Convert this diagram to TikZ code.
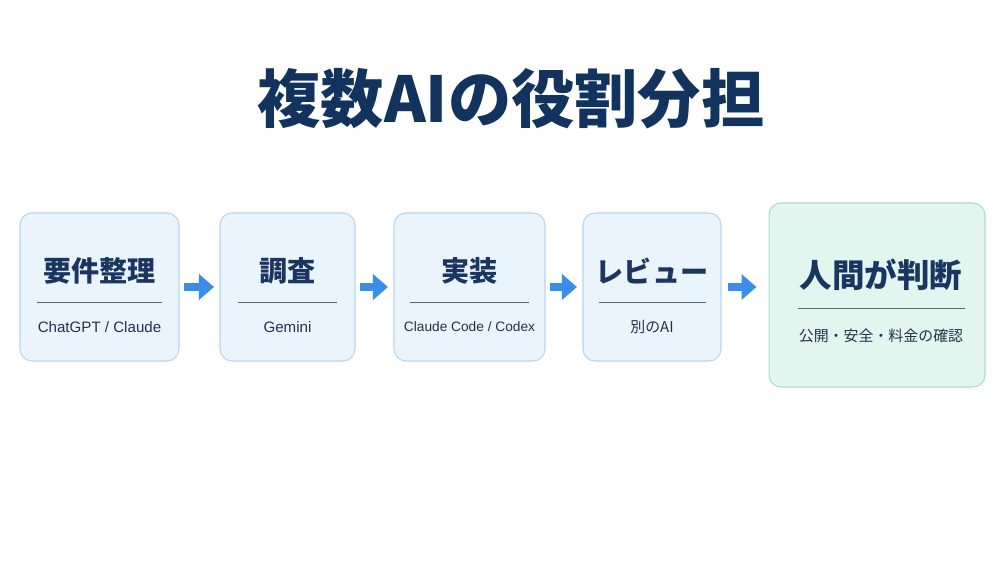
\documentclass[tikz,border=0pt]{standalone}
\usepackage{fontspec}
\setmainfont{Noto Sans CJK JP}
\newfontfamily\latinsub{Liberation Sans}
\usetikzlibrary{arrows.meta}

\definecolor{titlenavy}{HTML}{13335F}
\definecolor{headnavy}{HTML}{1A3560}
\definecolor{subnavy}{HTML}{22324D}
\definecolor{boxfill}{HTML}{EAF4FD}
\definecolor{boxline}{HTML}{B8D5EE}
\definecolor{humanfill}{HTML}{E2F5EF}
\definecolor{humanline}{HTML}{A9DECB}
\definecolor{divline}{HTML}{55657A}
\definecolor{flowblue}{HTML}{3A8DE8}

\tikzset{
stagebox/.style={draw=boxline, fill=boxfill, rounded corners=0.24cm, line width=0.6pt},
headtext/.style={font=\bfseries\fontsize{16}{18}\selectfont, text=headnavy},
subtext/.style={font=\fontsize{8.5}{10}\selectfont, text=subnavy},
latintext/.style={subtext, font=\latinsub\fontsize{8.6}{10}\selectfont},
divider/.style={draw=divline, line width=0.5pt},
flow/.style={draw=flowblue, line width=4.5pt, -{Triangle[width=0.5cm,length=0.3cm]}, shorten <=0.09cm, shorten >=0.11cm}
}

\begin{document}
\begin{tikzpicture}[x=0.02cm,y=0.02cm]

\useasboundingbox[fill=white] (0,0) rectangle (1000,-565);

%%%%%%%%%%%%%%%%%%%%%%%%%%%%%%%%%%%%%%%%%%%%%%%%%%%%%%
% TITLE
%%%%%%%%%%%%%%%%%%%%%%%%%%%%%%%%%%%%%%%%%%%%%%%%%%%%%%

\node[
font=\bfseries\fontsize{36}{43}\selectfont,
text=titlenavy
](title)
at (511,-99)
{複数AIの役割分担};

%%%%%%%%%%%%%%%%%%%%%%%%%%%%%%%%%%%%%%%%%%%%%%%%%%%%%%
% REQUIREMENTS
%%%%%%%%%%%%%%%%%%%%%%%%%%%%%%%%%%%%%%%%%%%%%%%%%%%%%%

\node[
stagebox,
minimum width=3.18cm,
minimum height=2.96cm
](req)
at (99.5,-287)
{};

\node[headtext](reqhead) at ([yshift=0.32cm]req.center) {要件整理};
\draw[divider] ([xshift=-1.26cm,yshift=-0.3cm]req.center) -- ([xshift=1.26cm,yshift=-0.3cm]req.center);
\node[latintext](reqsub) at ([yshift=-0.8cm]req.center) {ChatGPT / Claude};

%%%%%%%%%%%%%%%%%%%%%%%%%%%%%%%%%%%%%%%%%%%%%%%%%%%%%%
% RESEARCH
%%%%%%%%%%%%%%%%%%%%%%%%%%%%%%%%%%%%%%%%%%%%%%%%%%%%%%

\node[
stagebox,
minimum width=2.7cm,
minimum height=2.96cm
](research)
at (287.5,-287)
{};

\node[headtext](researchhead) at ([yshift=0.32cm]research.center) {調査};
\draw[divider] ([xshift=-1cm,yshift=-0.3cm]research.center) -- ([xshift=1cm,yshift=-0.3cm]research.center);
\node[latintext](researchsub) at ([yshift=-0.8cm]research.center) {Gemini};

%%%%%%%%%%%%%%%%%%%%%%%%%%%%%%%%%%%%%%%%%%%%%%%%%%%%%%
% IMPLEMENTATION
%%%%%%%%%%%%%%%%%%%%%%%%%%%%%%%%%%%%%%%%%%%%%%%%%%%%%%

\node[
stagebox,
minimum width=3.02cm,
minimum height=2.96cm
](impl)
at (469.5,-287)
{};

\node[headtext](implhead) at ([yshift=0.32cm]impl.center) {実装};
\draw[divider] ([xshift=-1.2cm,yshift=-0.3cm]impl.center) -- ([xshift=1.2cm,yshift=-0.3cm]impl.center);
\node[latintext,font=\latinsub\fontsize{7.8}{10}\selectfont](implsub) at ([yshift=-0.8cm]impl.center) {Claude Code / Codex};

%%%%%%%%%%%%%%%%%%%%%%%%%%%%%%%%%%%%%%%%%%%%%%%%%%%%%%
% REVIEW
%%%%%%%%%%%%%%%%%%%%%%%%%%%%%%%%%%%%%%%%%%%%%%%%%%%%%%

\node[
stagebox,
minimum width=2.76cm,
minimum height=2.96cm
](review)
at (652,-287)
{};

\node[headtext](reviewhead) at ([yshift=0.32cm]review.center) {レビュー};
\draw[divider] ([xshift=-1.07cm,yshift=-0.3cm]review.center) -- ([xshift=1.07cm,yshift=-0.3cm]review.center);
\node[subtext](reviewsub) at ([yshift=-0.8cm]review.center) {別のAI};

%%%%%%%%%%%%%%%%%%%%%%%%%%%%%%%%%%%%%%%%%%%%%%%%%%%%%%
% HUMAN DECISION
%%%%%%%%%%%%%%%%%%%%%%%%%%%%%%%%%%%%%%%%%%%%%%%%%%%%%%

\node[
stagebox,
draw=humanline,
fill=humanfill,
minimum width=4.32cm,
minimum height=3.68cm
](human)
at (877,-295)
{};

\node[headtext,font=\bfseries\fontsize{18.5}{21}\selectfont](humanhead) at ([xshift=0.08cm,yshift=0.4cm]human.center) {人間が判断};
\draw[divider] ([xshift=-1.58cm,yshift=-0.26cm]human.center) -- ([xshift=1.76cm,yshift=-0.26cm]human.center);
\node[subtext](humansub) at ([xshift=0.08cm,yshift=-0.82cm]human.center) {公開・安全・料金の確認};

%%%%%%%%%%%%%%%%%%%%%%%%%%%%%%%%%%%%%%%%%%%%%%%%%%%%%%
% ARROWS
%%%%%%%%%%%%%%%%%%%%%%%%%%%%%%%%%%%%%%%%%%%%%%%%%%%%%%

\draw[flow] (req) -- (research);

\draw[flow] (research) -- (impl);

\draw[flow] (impl) -- (review);

\draw[flow,shorten <=0.12cm,shorten >=0.24cm] (review) -- (review -| human.west);

\end{tikzpicture}
\end{document}
